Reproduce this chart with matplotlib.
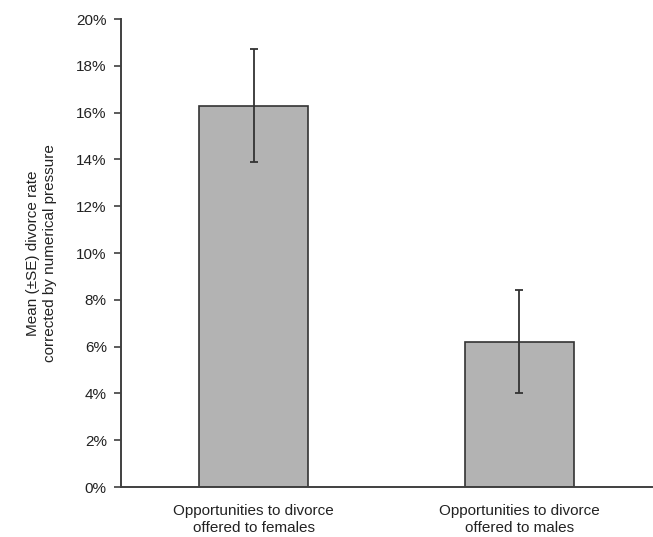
import matplotlib
matplotlib.use("Agg")
import matplotlib.pyplot as plt
from matplotlib.ticker import PercentFormatter

categories = ["Opportunities to divorce\noffered to females",
              "Opportunities to divorce\noffered to males"]
means = [16.3, 6.2]
se = [2.4, 2.2]
yticks = [0, 2, 4, 6, 8, 10, 12, 14, 16, 18, 20]

plt.rcParams['font.family'] = ['Liberation Sans', 'DejaVu Sans']

fig = plt.figure(figsize=(6.53, 5.37), dpi=100)
ax = fig.add_axes([0.1848, 0.0931, 0.8137, 0.8715])

x = range(len(categories))
ax.bar(x, means, width=0.41, color='#b3b3b3', edgecolor='#333333', linewidth=1.2, zorder=2)
ax.errorbar(x, means, yerr=se, fmt='none', ecolor='#333333', elinewidth=1.3,
            capsize=3, capthick=1.3, zorder=3)

ax.set_xlim(-0.5, 1.5)
ax.set_ylim(0, 20)
ax.set_yticks(yticks)
ax.yaxis.set_major_formatter(PercentFormatter(decimals=0))
ax.set_xticks(list(x))
ax.set_xticklabels(categories, fontsize=11, color='#222222', linespacing=1.3)
ax.tick_params(axis='x', length=0, pad=12)
ax.tick_params(axis='y', direction='out', length=5, width=1.2, color='#404040',
               labelsize=11, labelcolor='#222222', pad=5)

for s in ['top', 'right']:
    ax.spines[s].set_visible(False)
for s in ['left', 'bottom']:
    ax.spines[s].set_color('#404040')
    ax.spines[s].set_linewidth(1.4)

ax.set_ylabel("Mean (\u00b1SE) divorce rate\ncorrected by numerical pressure",
              fontsize=11, color='#222222', labelpad=14, linespacing=1.3)

fig.savefig("out.png", dpi=100)
